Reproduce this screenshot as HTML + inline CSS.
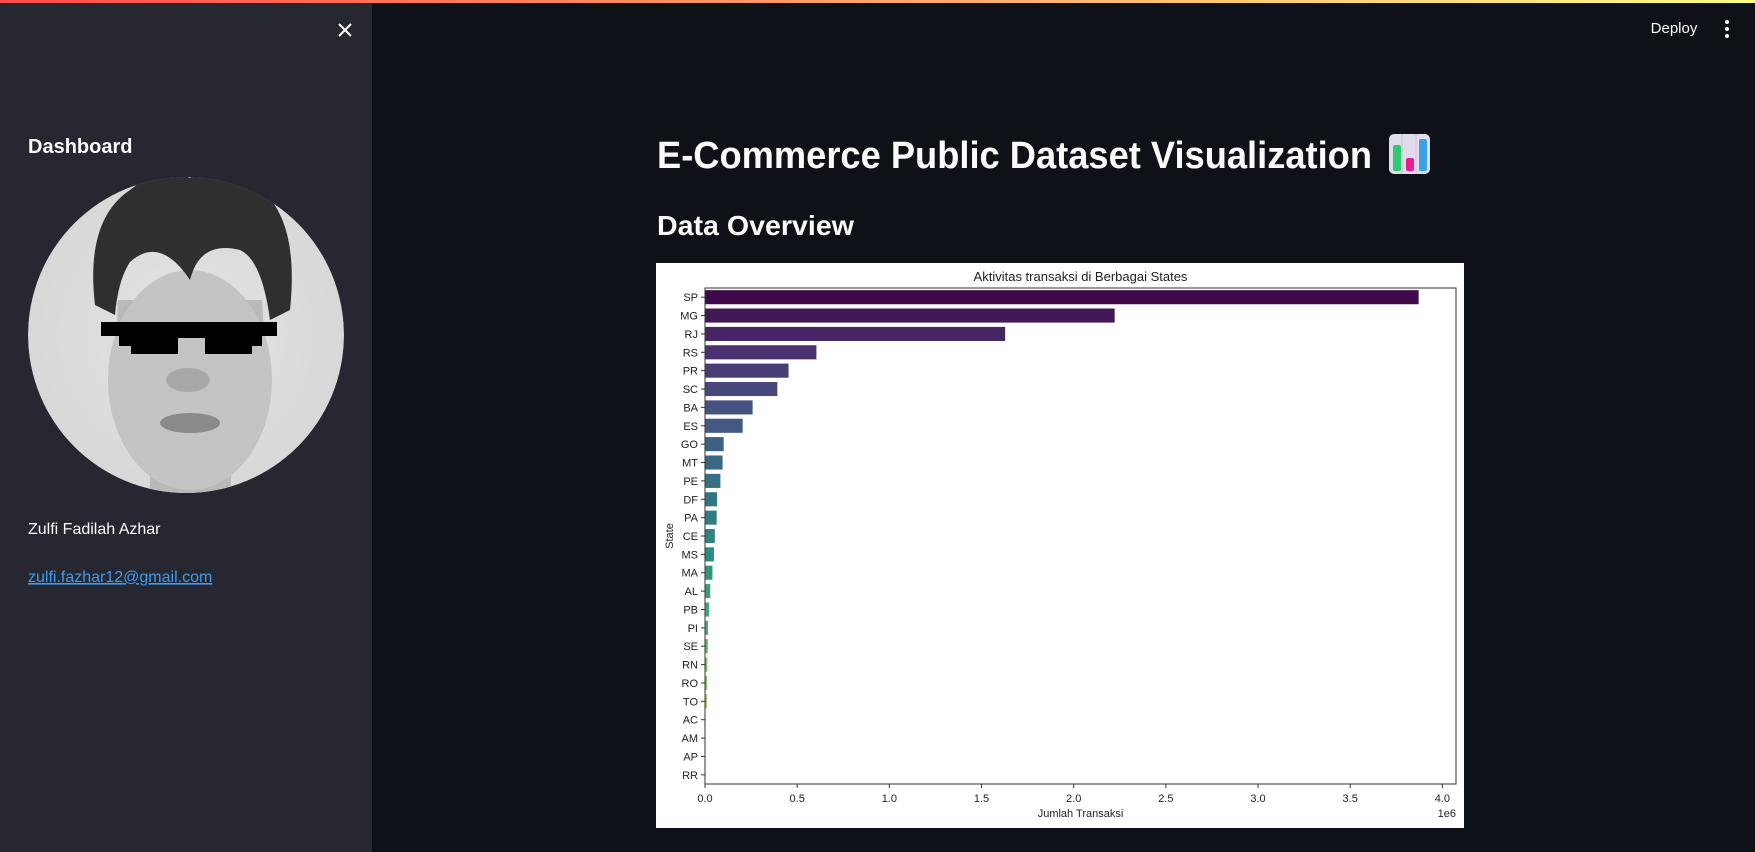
<!DOCTYPE html>
<html><head><meta charset="utf-8"><style>
html,body{margin:0;padding:0;background:#0e1117;overflow:hidden}
svg{display:block;font-family:"Liberation Sans","DejaVu Sans",sans-serif}
</style></head><body>
<svg id="page" width="1755" height="852" viewBox="0 0 1755 852" xmlns="http://www.w3.org/2000/svg">
<defs>
<linearGradient id="topbar" x1="0" x2="1"><stop offset="0" stop-color="#ff4b4b"/><stop offset="1" stop-color="#fffd80"/></linearGradient>
<radialGradient id="bgface" cx="0.5" cy="0.5" r="0.6"><stop offset="0" stop-color="#e4e4e4"/><stop offset="1" stop-color="#d6d6d6"/></radialGradient>
<clipPath id="avclip"><circle cx="186" cy="335" r="158"/></clipPath>
</defs>
<rect x="0" y="0" width="1755" height="852" fill="#0e1117"/>
<rect x="0" y="0" width="372" height="852" fill="#262730"/>
<rect x="0" y="0" width="1755" height="3" fill="url(#topbar)"/>
<g stroke="#fafafa" stroke-width="2">
<line x1="339" y1="24" x2="351" y2="36"/><line x1="351" y1="24" x2="339" y2="36"/></g>
<text x="1674" y="33" fill="#fafafa" font-size="15" text-anchor="middle">Deploy</text>
<g fill="#fafafa"><circle cx="1727" cy="22" r="2"/><circle cx="1727" cy="29" r="2"/><circle cx="1727" cy="36" r="2"/></g>
<text x="28" y="153" fill="#fafafa" font-size="20" font-weight="bold">Dashboard</text>
<g clip-path="url(#avclip)">
<circle cx="186" cy="335" r="158" fill="url(#bgface)"/>
<path d="M118 300 Q112 400 150 460 L150 500 L230 500 L232 460 Q270 400 262 300 Z" fill="#b9b9b9"/>
<ellipse cx="190" cy="380" rx="82" ry="110" fill="#c4c4c4"/>
<path d="M95 305 Q85 220 130 190 Q160 165 190 178 Q220 160 255 185 Q300 215 290 310 L270 320 Q262 260 240 250 Q200 240 190 280 Q160 235 130 262 Q118 280 115 315 Z" fill="#2f2f2f"/>
<ellipse cx="190" cy="423" rx="30" ry="10" fill="#8a8a8a"/>
<ellipse cx="188" cy="380" rx="22" ry="12" fill="#a8a8a8"/>
<path d="M101 322 H277 V336 H262 V346 H252 V354 H205 V338 H178 V354 H131 V346 H119 V336 H101 Z" fill="#000"/>
</g>
<text x="28" y="534" fill="#fafafa" font-size="16">Zulfi Fadilah Azhar</text>
<text x="28" y="582" fill="#3d9df3" font-size="16" text-decoration="underline">zulfi.fazhar12@gmail.com</text>
<text x="657" y="168" fill="#fafafa" font-size="38" font-weight="bold" textLength="715" lengthAdjust="spacingAndGlyphs">E-Commerce Public Dataset Visualization</text>
<g>
<rect x="1389" y="134" width="41" height="40" rx="5" fill="#e0dcec"/>
<line x1="1402" y1="134" x2="1402" y2="174" stroke="#c8c2d8" stroke-width="1"/>
<line x1="1416" y1="134" x2="1416" y2="174" stroke="#c8c2d8" stroke-width="1"/>
<rect x="1393" y="145" width="8" height="26" rx="2" fill="#2ecc71"/>
<rect x="1406" y="158" width="8" height="13" rx="2" fill="#e91e8c"/>
<rect x="1419" y="139" width="8" height="32" rx="2" fill="#3aa0e8"/>
</g>
<text x="657" y="235" fill="#fafafa" font-size="28" font-weight="bold" textLength="197" lengthAdjust="spacingAndGlyphs">Data Overview</text>
<rect x="656" y="263" width="808" height="565" fill="#ffffff"/>
<g id="chart"></g>
</svg>
<script>
const categories = ["SP","MG","RJ","RS","PR","SC","BA","ES","GO","MT","PE","DF","PA","CE","MS","MA","AL","PB","PI","SE","RN","RO","TO","AC","AM","AP","RR"];
const values = [3.873e6,2.224e6,1.63e6,0.606e6,0.455e6,0.394e6,0.26e6,0.206e6,0.103e6,0.097e6,0.085e6,0.067e6,0.065e6,0.055e6,0.05e6,0.042e6,0.03e6,0.024e6,0.018e6,0.017e6,0.014e6,0.013e6,0.012e6,0.005e6,0.004e6,0.003e6,0.002e6];
const xTicks = [0,0.5e6,1e6,1.5e6,2e6,2.5e6,3e6,3.5e6,4e6];
const xTickLabels = ["0.0","0.5","1.0","1.5","2.0","2.5","3.0","3.5","4.0"];

const NS = "http://www.w3.org/2000/svg";
const g = document.getElementById('chart');
const L = 705, R = 1456, T = 288, B = 784;
const xMax = 4.074e6;
const xs = v => L + v / xMax * (R - L);
const band = (B - T) / categories.length;
const yc = i => T + band * (i + 0.5);
const vir = [[68,1,84],[72,40,120],[62,74,137],[49,104,142],[38,130,142],[31,158,137],[53,183,121],[109,205,89],[180,222,44],[253,231,37]];
function color(t){
  const p = t*(vir.length-1), i = Math.min(Math.floor(p), vir.length-2), f = p-i;
  let c = vir[i].map((a,k)=>a+(vir[i+1][k]-a)*f);
  const m = (Math.max(...c)+Math.min(...c))/2;
  c = c.map(a=>Math.round(m+(a-m)*0.78));
  return `rgb(${c[0]},${c[1]},${c[2]})`;
}
function mk(tag, attrs, text){
  const e = document.createElementNS(NS, tag);
  for (const k in attrs) e.setAttribute(k, attrs[k]);
  if (text !== undefined) e.textContent = text;
  g.appendChild(e); return e;
}
const title = mk('text',{x:(L+R)/2,y:281,'text-anchor':'middle','font-size':13,fill:'#222'},'Aktivitas transaksi di Berbagai States');


categories.forEach((c,i)=>{
  const h = band*0.8;
  const bar = mk('rect',{x:xs(0),y:yc(i)-h/2,width:Math.max(xs(values[i])-xs(0),0.5),height:h,fill:color(i/(categories.length-1)),stroke:'#fff','stroke-width':0.6});
  
  
  const tk = mk('line',{x1:L-4,x2:L,y1:yc(i),y2:yc(i),stroke:'#333','stroke-width':1});
  
  
  const lb = mk('text',{x:L-7,y:yc(i)+4,'text-anchor':'end','font-size':11,fill:'#222'},c);
  
  
});
const frame = mk('rect',{x:L,y:T,width:R-L,height:B-T,fill:'none',stroke:'#333','stroke-width':1});


xTicks.forEach((v,i)=>{
  const tk = mk('line',{x1:xs(v),x2:xs(v),y1:B,y2:B+4,stroke:'#333','stroke-width':1});
  
  
  const lb = mk('text',{x:xs(v),y:B+18,'text-anchor':'middle','font-size':11,fill:'#222'},xTickLabels[i]);
  
  
});
const xl = mk('text',{x:(L+R)/2,y:817,'text-anchor':'middle','font-size':11,fill:'#222'},'Jumlah Transaksi');


const off = mk('text',{x:1456,y:817,'text-anchor':'end','font-size':11,fill:'#222'},'1e6');


const yl = mk('text',{x:0,y:0,'text-anchor':'middle','font-size':11,fill:'#222',transform:`translate(673,${(T+B)/2}) rotate(-90)`},'State');


</script>
</body></html>
